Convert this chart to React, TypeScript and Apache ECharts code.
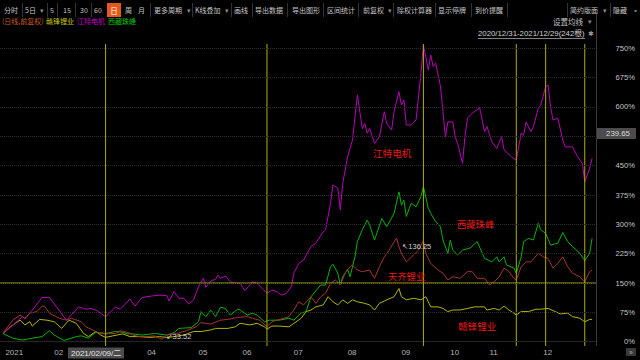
import React, { useEffect, useRef } from "react";
import * as echarts from "echarts";

// x = trading-day index (0 = 2020/12/31, 241 = 2021/12/29), y = percent
const monthStarts = [1, 21, 59, 80, 98, 119, 141, 163, 183, 199, 221];
const monthLabels = ["2021", "02", "04", "05", "06", "07", "08", "09", "10", "11", "12"];
const yTicks = [0, 75, 150, 225, 300, 375, 450, 525, 600, 675, 750];
const yLabelTicks = [0, 75, 150, 225, 300, 375, 450, 600, 675, 750];
const markerDays = [42, 108, 172, 210, 222, 238];
const refLevel = 150;
const xMin = -1.2;
const xMax = 242.6;
const yMin = -11;
const yMax = 761;
const maxPrice = "136.25";
const minPrice = "33.52";
const crossPrice = "239.65";
const crossDate = "2021/02/09/二";

const ganfeng = [
  [0, 21], [3, 38], [5, 47], [7, 55], [9, 43], [11, 51], [12, 40], [15, 57], [18, 55], [21, 51], [24, 34],
  [27, 55], [30, 47], [33, 21], [35, 13], [38, 26], [40, 17], [42, 11], [45, 15], [49, 20], [52, 13],
  [56, 13], [60, 11], [64, 13], [67, 11], [70, 13], [74, 17], [78, 26], [81, 26], [85, 30], [87, 34],
  [92, 34], [95, 38], [97, 47], [101, 43], [104, 47], [107, 38], [108, 32], [110, 40], [113, 40], [117, 38],
  [119, 47], [122, 60], [124, 77], [126, 81], [128, 89], [131, 94], [133, 115], [135, 102], [137, 94],
  [139, 107], [141, 98], [143, 107], [145, 102], [148, 98], [150, 94], [152, 81], [154, 98], [157, 107],
  [160, 115], [162, 136], [163, 115], [165, 107], [168, 111], [171, 107], [173, 115], [175, 89], [178, 89],
  [180, 85], [182, 77], [184, 81], [187, 81], [190, 85], [193, 89], [197, 89], [198, 81], [201, 85],
  [203, 81], [205, 91], [207, 81], [209, 73], [210, 68], [212, 77], [215, 77], [218, 83], [220, 83],
  [223, 85], [226, 77], [228, 71], [231, 73], [233, 64], [236, 60], [238, 51], [240, 57], [241, 57],
];

const jiangte = [
  [0, 21], [4, 42], [8, 64], [9, 58], [12, 81], [16, 113], [19, 113], [26, 55], [31, 89], [34, 83], [36, 85],
  [38, 81], [42, 64], [46, 88], [48, 83], [52, 109], [54, 91], [57, 113], [61, 117], [64, 119], [67, 118],
  [68, 104], [70, 128], [72, 111], [74, 111], [76, 96], [78, 107], [80, 141], [82, 162], [83, 139], [85, 155],
  [87, 160], [88, 170], [89, 162], [91, 168], [93, 153], [95, 149], [97, 150], [99, 130], [102, 153],
  [104, 149], [108, 124], [110, 132], [112, 128], [114, 119], [116, 124], [118, 141], [119, 175], [121, 200],
  [123, 209], [126, 243], [128, 252], [131, 281], [132, 286], [134, 354], [135, 401], [137, 392], [138, 337],
  [139, 405], [141, 473], [143, 516], [145, 631], [147, 545], [148, 558], [149, 533], [150, 545], [152, 507],
  [154, 524], [156, 588], [157, 558], [159, 541], [160, 588], [162, 639], [163, 605], [164, 618], [165, 554],
  [167, 554], [169, 567], [171, 686], [172, 758], [173, 728], [174, 694], [175, 733], [176, 703], [177, 712],
  [179, 652], [180, 588], [181, 524], [182, 562], [184, 562], [185, 524], [186, 507], [188, 456], [189, 524],
  [190, 571], [192, 584], [195, 598], [197, 537], [198, 550], [200, 511], [202, 494], [204, 524], [205, 490],
  [208, 473], [210, 464], [212, 533], [213, 528], [214, 562], [216, 537], [217, 550], [219, 597], [220, 605],
  [222, 652], [223, 656], [224, 601], [225, 567], [227, 571], [229, 516], [230, 498], [233, 498], [235, 473],
  [237, 456], [238, 409], [240, 443], [241, 469],
];

const xizang = [
  [0, 21], [4, 9], [8, 4], [12, 9], [16, 13], [19, 28], [21, 17], [25, 3], [30, 13], [32, 15], [35, 9],
  [38, 24], [42, 21], [46, 26], [49, 24], [51, 20], [53, 20], [57, 17], [62, 21], [67, 17], [70, 23],
  [72, 34], [77, 36], [80, 51], [81, 77], [83, 64], [85, 81], [87, 64], [89, 88], [91, 85], [93, 68],
  [96, 83], [97, 81], [100, 68], [102, 73], [104, 68], [107, 51], [109, 55], [113, 55], [117, 60], [119, 55],
  [122, 73], [124, 77], [126, 115], [130, 145], [132, 145], [134, 192], [135, 198], [137, 175], [138, 145],
  [139, 166], [141, 185], [142, 166], [144, 217], [145, 256], [147, 286], [149, 311], [150, 298], [152, 260],
  [155, 315], [157, 294], [160, 328], [162, 383], [163, 349], [164, 362], [165, 320], [167, 354], [169, 345],
  [171, 371], [172, 396], [174, 341], [175, 328], [177, 307], [179, 294], [180, 260], [182, 226], [183, 260],
  [184, 234], [186, 222], [188, 234], [191, 239], [194, 256], [197, 213], [200, 204], [202, 217], [203, 204],
  [205, 217], [206, 196], [209, 188], [210, 175], [212, 217], [213, 256], [215, 264], [217, 260], [219, 303],
  [220, 286], [222, 277], [224, 247], [227, 252], [229, 279], [231, 256], [233, 243], [236, 226], [238, 207],
  [240, 226], [241, 264],
];

const tianqi = [
  [0, 21], [4, 55], [7, 68], [9, 60], [11, 73], [14, 77], [16, 91], [17, 91], [19, 73], [23, 60], [26, 55],
  [28, 60], [32, 51], [34, 38], [38, 26], [40, 21], [42, 20], [46, 21], [48, 28], [52, 22], [53, 17], [56, 13],
  [59, 13], [62, 15], [65, 6], [67, 17], [71, 21], [75, 28], [79, 38], [81, 49], [85, 45], [89, 55], [92, 57],
  [96, 62], [100, 64], [102, 60], [105, 55], [108, 38], [110, 51], [112, 55], [115, 60], [117, 64], [119, 81],
  [121, 102], [123, 94], [126, 115], [128, 98], [130, 115], [132, 124], [134, 149], [136, 158], [138, 145],
  [140, 175], [142, 192], [143, 196], [145, 183], [147, 179], [150, 183], [152, 162], [154, 192], [156, 217],
  [158, 234], [160, 255], [161, 265], [162, 243], [163, 226], [165, 204], [168, 222], [170, 234], [172, 258],
  [173, 226], [175, 200], [178, 183], [180, 175], [182, 158], [184, 166], [187, 162], [190, 179], [192, 179],
  [194, 162], [197, 162], [199, 145], [201, 153], [203, 166], [205, 188], [207, 179], [209, 162], [210, 158],
  [212, 192], [214, 204], [216, 204], [219, 226], [221, 217], [223, 213], [225, 188], [227, 200], [229, 217],
  [231, 192], [233, 175], [236, 166], [238, 153], [240, 179], [241, 183],
];

const toolbarItems: [string, number][] = [
  ["分时", 4], ["5日", 25], ["5", 50], ["15", 63], ["30", 80], ["60", 94], ["周", 125], ["月", 138],
  ["更多周期", 154], ["K线叠加", 195], ["画线", 234], ["导出数据", 255], ["导出图形", 292], ["区间统计", 327],
  ["前复权", 363], ["除权计算器", 397], ["显示停牌", 438], ["到价提醒", 475], ["简约版面", 570], ["隐藏", 613],
];
const toolbarArrows = [40, 187, 225, 388, 603];
const toolbarSeps = [22, 47, 57, 75, 91, 150, 192, 231, 252, 287, 323, 358, 393, 435, 471, 507, 567, 610];

const CJK = '"Noto Sans CJK SC", "Liberation Sans", sans-serif';
const NUM = '"Liberation Sans", "DejaVu Sans", "Noto Sans CJK SC", sans-serif';

function txt(text: string, x: number, y: number, fill: string, fontSize: number, align = "left", font = CJK) {
  return {
    type: "text",
    x,
    y,
    silent: true,
    z: 100,
    style: { text, fill, fontSize, fontFamily: font, align, verticalAlign: "middle" },
  };
}

export default function App() {
  const ref = useRef<HTMLDivElement>(null);
  useEffect(() => {
    const chart = echarts.init(ref.current!, null, { renderer: "svg" });
    const yellowMark = "#b0b000";
    const graphic: any[] = [];
    toolbarSeps.forEach((x) =>
      graphic.push({ type: "line", silent: true, z: 100, shape: { x1: x + 0.5, y1: 3, x2: x + 0.5, y2: 17 }, style: { stroke: "#333", lineWidth: 1 } })
    );
    toolbarItems.forEach(([t, x]) => graphic.push(txt(t, x, 10, "#c4c4c4", 7)));
    toolbarArrows.forEach((x) => graphic.push(txt("▾", x, 10, "#8a8a8a", 7)));
    graphic.push({ type: "rect", silent: true, z: 100, shape: { x: 107, y: 3, width: 14, height: 14 }, style: { fill: "#e4581c" } });
    graphic.push(txt("日", 114, 10, "#ffffff", 7.5, "center"));
    graphic.push(txt("▪", 632, 10, "#8a8a8a", 7));
    // legend row
    graphic.push(txt("(日线,前复权)", 2, 21, "#c85a28", 7));
    graphic.push(txt("赣锋锂业", 46, 21, "#c8c800", 7));
    graphic.push(txt("江特电机", 77, 21, "#c800c8", 7));
    graphic.push(txt("西藏珠峰", 108, 21, "#00c000", 7));
    graphic.push(txt("设置均线", 553, 21, "#c4c4c4", 7.5));
    graphic.push(txt("▾", 588, 21, "#8a8a8a", 7));
    graphic.push(txt("2020/12/31-2021/12/29(242根)", 478, 33.5, "#d0d0d0", 7.8, "left", NUM));
    graphic.push({ type: "line", silent: true, z: 100, shape: { x1: 478, y1: 38.5, x2: 585, y2: 38.5 }, style: { stroke: "#bbbbbb", lineWidth: 0.7 } });
    graphic.push(txt("✱", 591, 33, "#9a9a9a", 7, "center", NUM));
    // right border
    graphic.push({ type: "line", silent: true, z: 90, shape: { x1: 596.5, y1: 14, x2: 596.5, y2: 346 }, style: { stroke: "#3a3a3a", lineWidth: 1 } });
    // series annotations
    graphic.push(txt("江特电机", 373, 153, "#e81818", 9.6));
    graphic.push(txt("西藏珠峰", 457, 224, "#e81818", 9.3));
    graphic.push(txt("天齐锂业", 388, 276, "#e81818", 9.3));
    graphic.push(txt("赣锋锂业", 458, 326, "#e81818", 9.6));
    // crosshair labels
    graphic.push({ type: "rect", silent: true, z: 100, shape: { x: 68, y: 347.5, width: 56, height: 11 }, style: { fill: "#4c4c4c" } });
    graphic.push(txt(crossDate, 71, 353, "#e4e4e4", 8, "left", NUM));
    graphic.push({ type: "rect", silent: true, z: 100, shape: { x: 597, y: 128, width: 39, height: 11 }, style: { fill: "#4c4c4c" } });
    graphic.push(txt(crossPrice, 618, 133.5, "#d8d8d8", 7.8, "center", NUM));
    graphic.push({ type: "rect", silent: true, z: 100, shape: { x: 626, y: 348, width: 10, height: 8 }, style: { fill: "#3a3a3a" } });
    graphic.push(txt("»", 631, 352, "#aaaaaa", 7, "center", NUM));

    const gridMarks = yTicks.map((v) => ({ yAxis: v }));

    const base = { type: "line", showSymbol: false, symbol: "none", silent: true, animation: false };
    const markerSeries = [
      ...markerDays.map((d) => ({
        ...base,
        name: "marker-" + d,
        data: [[d, yMin], [d, yMax]],
        lineStyle: { color: yellowMark, width: 1 },
        z: 3,
      })),
      {
        ...base,
        name: "ref-level",
        data: [[xMin, refLevel], [xMax, refLevel]],
        lineStyle: { color: yellowMark, width: 1 },
        z: 3,
      },
    ];

    chart.setOption({
      animation: false,
      backgroundColor: "#000000",
      textStyle: { fontFamily: NUM },
      grid: { left: 0, right: 44, top: 44, bottom: 14, containLabel: false },
      xAxis: {
        type: "value",
        min: xMin,
        max: xMax,
        splitLine: { show: false },
        axisTick: { show: false },
        axisLine: { show: true, lineStyle: { color: "#1e1e1e" } },
        axisLabel: {
          customValues: monthStarts,
          align: "left",
          margin: 2,
          color: "#b4b4b4",
          fontSize: 8,
          fontFamily: NUM,
          formatter: (v: number) => monthLabels[monthStarts.indexOf(Math.round(v))] ?? "",
        },
      },
      yAxis: {
        type: "value",
        position: "right",
        min: yMin,
        max: yMax,
        splitLine: { show: false },
        axisTick: { show: false },
        axisLine: { show: false },
        axisLabel: {
          customValues: yLabelTicks,
          align: "right",
          margin: 39,
          color: "#c4c4c4",
          fontSize: 7.6,
          fontFamily: NUM,
          formatter: (v: number) => `${v}%`,
        },
      },
      graphic,
      series: [
        {
          ...base,
          name: "赣锋锂业",
          data: ganfeng,
          lineStyle: { color: "#b4b400", width: 1 },
          markLine: {
            silent: true,
            symbol: ["none", "none"],
            label: { show: false },
            animation: false,
            lineStyle: { color: "#2e2e2e", type: "dotted", width: 1 },
            emphasis: { disabled: true },
            data: gridMarks,
          },
        },
        { ...base, name: "江特电机", data: jiangte, lineStyle: { color: "#b800b8", width: 1 } },
        { ...base, name: "西藏珠峰", data: xizang, lineStyle: { color: "#00b400", width: 1 } },
        {
          ...base,
          name: "天齐锂业",
          data: tianqi,
          lineStyle: { color: "#a83434", width: 1 },
          markPoint: {
            silent: true,
            animation: false,
            symbol: "circle",
            symbolSize: 1,
            itemStyle: { color: "rgba(0,0,0,0)" },
            data: [
              { type: "max", label: { show: true, formatter: "↖" + maxPrice, position: "right", distance: 4, offset: [1, 8], color: "#d0d0d0", fontSize: 7.5, fontFamily: NUM } },
              { type: "min", label: { show: true, formatter: "↙" + minPrice, position: "right", distance: 3, offset: [1, -3], color: "#d0d0d0", fontSize: 7.5, fontFamily: NUM } },
            ],
          },
        },
        ...markerSeries,
      ],
    });
    return () => chart.dispose();
  }, []);
  return <div ref={ref} style={{ position: "fixed", left: 0, top: 0, width: 640, height: 360, background: "#000" }} />;
}
